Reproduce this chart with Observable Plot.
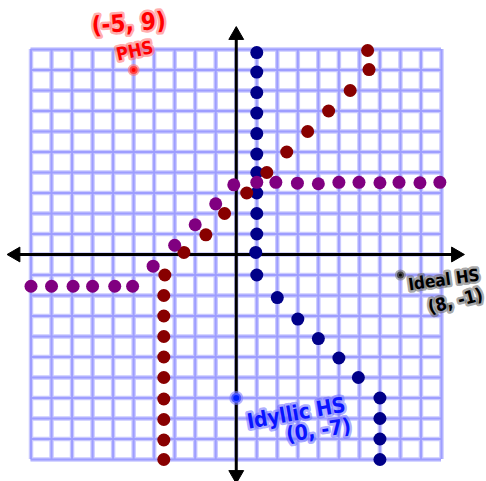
<!DOCTYPE html>
<html>
<head>
<meta charset="utf-8">
<script src="https://cdn.jsdelivr.net/npm/d3@7"></script>
<script src="https://cdn.jsdelivr.net/npm/@observablehq/plot@0.6"></script>
<style>
  html, body { margin: 0; padding: 0; background: #fff; }
</style>
</head>
<body>
<div id="chart"></div>
<script>
// Grid and axes
const gridTicks = d3.range(-10, 11);
const axisEnds = [-10.75, 10.7];

// Blue series
const blueX = [1, 1, 1, 1, 1, 1, 1, 1, 1, 1, 0.95, 1, 2, 3, 4, 5, 5.95, 7, 7, 7, 7];
const blueY = [9.85, 8.9, 7.9, 6.9, 5.9, 4.9, 4, 3, 2, 1, 0.1, -1, -2.1, -3.15, -4.1, -5.05, -6, -7, -8, -9, -10];

// Dark red series
const redX = [6.4, 6.47, 5.55, 4.5, 3.48, 2.46, 1.49, 0.51, -0.57, -1.48, -2.55, -3.48, -3.53, -3.53, -3.53, -3.53, -3.53, -3.53, -3.53, -3.53, -3.53];
const redY = [9.95, 9.02, 8, 7, 6, 5, 4, 3, 2, 0.96, 0.1, -1, -2, -3, -4, -5, -6, -7.05, -8.05, -9.05, -10];

// Purple series
const purpleX = [-10, -9, -7.95, -7, -5.92, -5.05, -4.05, -3, -2, -1, -0.12, 1, 1.93, 2.98, 4, 5, 5.98, 7, 7.93, 8.95, 9.92];
const purpleY = [-1.55, -1.55, -1.55, -1.55, -1.55, -1.55, -0.57, 0.45, 1.45, 2.47, 3.4, 3.52, 3.52, 3.48, 3.45, 3.52, 3.52, 3.5, 3.52, 3.5, 3.52];

// Labelled points
const noteNames = ["PHS", "Ideal HS", "Idyllic HS"];
const noteX = [-5, 8, 0];
const noteY = [9, -1, -7];

const zip = (xs, ys) => xs.map((x, i) => ({x, y: ys[i]}));
const blue = zip(blueX, blueY);
const red = zip(redX, redY);
const purple = zip(purpleX, purpleY);
const notes = noteNames.map((name, i) => ({name, x: noteX[i], y: noteY[i], label: `(${noteX[i]}, ${noteY[i]})`}));

const font = "'DejaVu Sans Condensed', 'DejaVu Sans', sans-serif";
const textCommon = {fontFamily: font, fontWeight: "bold", strokeWidth: 5, strokeOpacity: 0.55, textAnchor: "start"};

const chart = Plot.plot({
  width: 486,
  height: 481,
  margin: 0,
  x: {domain: [-10, 10], range: [30.5, 441]},
  y: {domain: [-10, 10], range: [459, 49]},
  axis: null,
  marks: [
    // graph-paper grid
    Plot.ruleX(gridTicks, {x: d => d, y1: -10, y2: 10, stroke: "#c9c9ff", strokeWidth: 4.5}),
    Plot.ruleY(gridTicks, {y: d => d, x1: -10, x2: 10, stroke: "#c9c9ff", strokeWidth: 4.5}),
    Plot.ruleX(gridTicks, {x: d => d, y1: -10, y2: 10, stroke: "#9e9eff", strokeWidth: 2}),
    Plot.ruleY(gridTicks, {y: d => d, x1: -10, x2: 10, stroke: "#9e9eff", strokeWidth: 2}),
    // axes with arrowheads
    Plot.ruleY([0], {x1: axisEnds[0], x2: axisEnds[1], stroke: "black", strokeWidth: 3}),
    Plot.ruleX([0], {y1: axisEnds[0], y2: axisEnds[1], stroke: "black", strokeWidth: 3}),
    Plot.dot([
      {x: axisEnds[0], y: 0, a: -90}, {x: axisEnds[1], y: 0, a: 90},
      {x: 0, y: axisEnds[1], a: 0}, {x: 0, y: axisEnds[0], a: 180}
    ], {x: "x", y: "y", rotate: "a", symbol: "triangle", r: 5.5, fill: "black", stroke: "black", strokeWidth: 1}),
    // series
    Plot.dot(blue, {x: "x", y: "y", r: 6.5, fill: "#000088"}),
    Plot.dot(red, {x: "x", y: "y", r: 6.5, fill: "#880000"}),
    Plot.dot(purple, {x: "x", y: "y", r: 6.5, fill: "#800080"}),
    // labelled points
    Plot.dot([notes[0]], {x: "x", y: "y", r: 4, fill: "#ff0000", stroke: "#ff7070", strokeWidth: 4, strokeOpacity: 0.6}),
    Plot.dot([notes[1]], {x: "x", y: "y", r: 3.5, fill: "#000000", stroke: "#777777", strokeWidth: 4, strokeOpacity: 0.6}),
    Plot.dot([notes[2]], {x: "x", y: "y", r: 5, fill: "#0022ff", stroke: "#7f7fff", strokeWidth: 4, strokeOpacity: 0.6}),
    // PHS
    Plot.text([notes[0]], {...textCommon, x: "x", y: "y", text: "label", fontSize: 24, dx: -42, dy: -44, rotate: -4, fill: "#ff0000", stroke: "#ff6a6a"}),
    Plot.text([notes[0]], {...textCommon, x: "x", y: "y", text: "name", fontSize: 18, dx: -17, dy: -15, rotate: -12, fill: "#ff0000", stroke: "#ff6a6a"}),
    // Ideal HS
    Plot.text([notes[1]], {...textCommon, x: "x", y: "y", text: "name", fontSize: 17, dx: 8, dy: 10, rotate: -8, fill: "#000000", stroke: "#606060"}),
    Plot.text([notes[1]], {...textCommon, x: "x", y: "y", text: "label", fontSize: 18, dx: 28, dy: 33, rotate: -14, fill: "#000000", stroke: "#606060"}),
    // Idyllic HS
    Plot.text([notes[2]], {...textCommon, x: "x", y: "y", text: "name", fontSize: 21, dx: 11, dy: 24, rotate: -10, fill: "#0a14ff", stroke: "#6a6aff"}),
    Plot.text([notes[2]], {...textCommon, x: "x", y: "y", text: "label", fontSize: 21, dx: 50, dy: 37, rotate: -8, fill: "#0a14ff", stroke: "#6a6aff"})
  ]
});

document.getElementById("chart").append(chart);
</script>
</body>
</html>
